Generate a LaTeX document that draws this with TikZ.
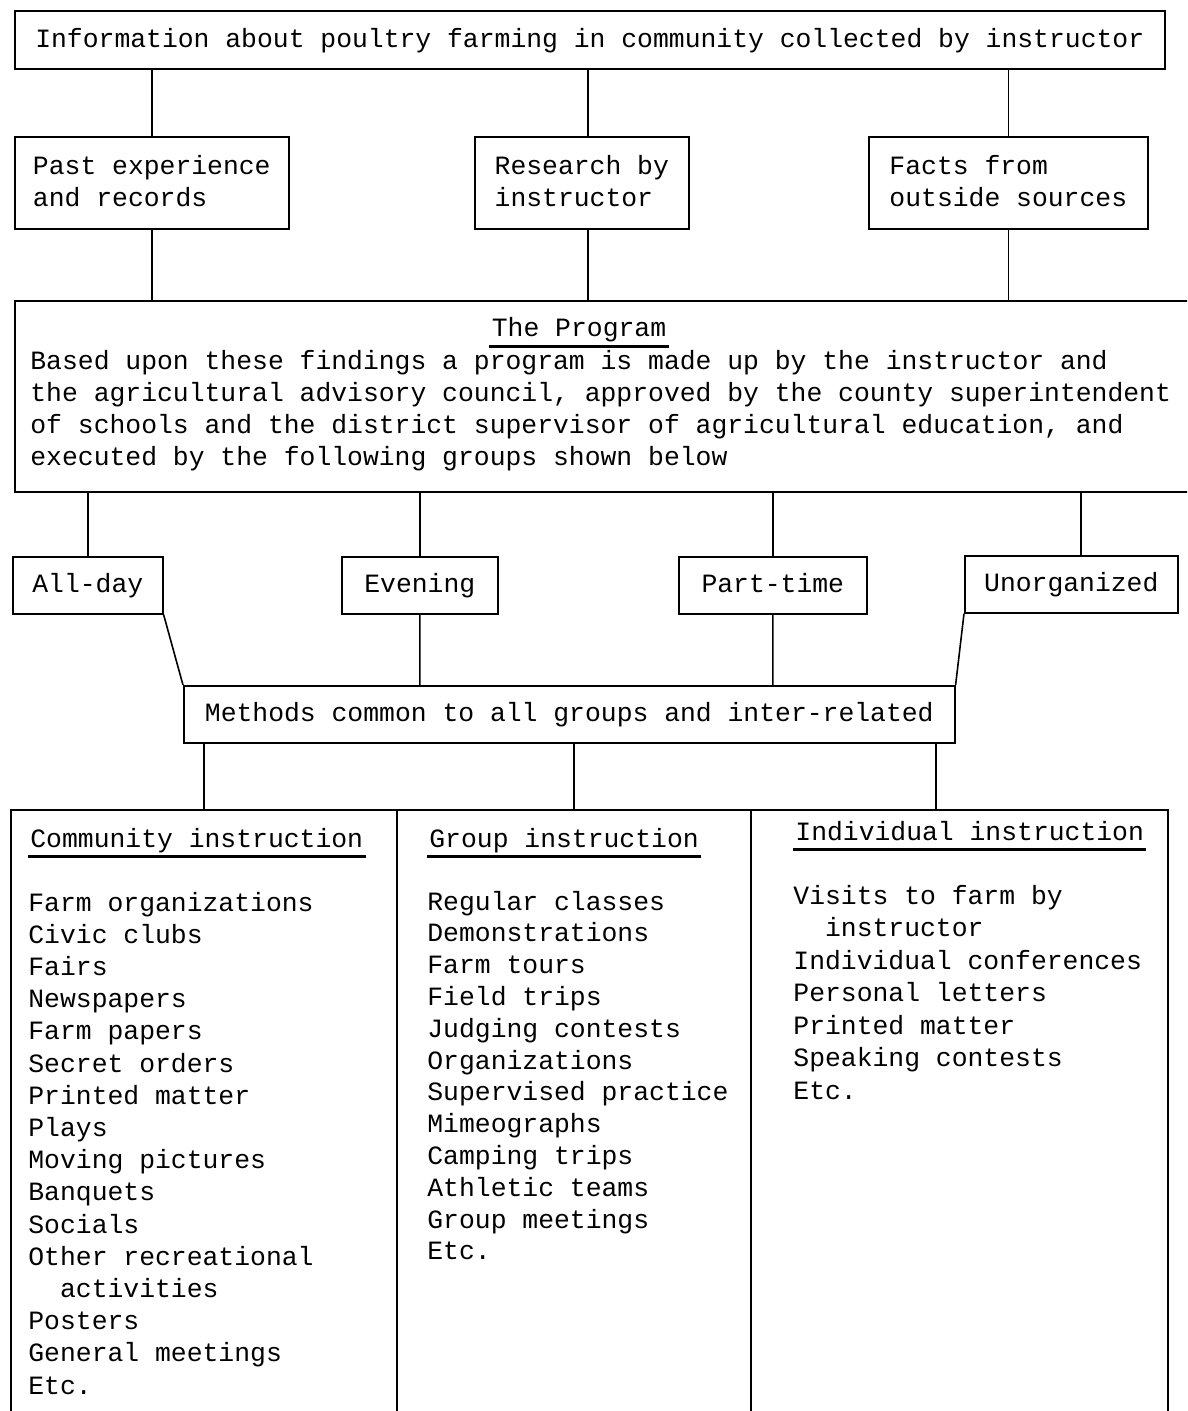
\documentclass[tikz,border=0pt]{standalone}
\usepackage{fontspec}
\setmonofont{Liberation Mono}
\tikzstyle{every node}=[font=\ttfamily\fontsize{13.2}{16.1}\selectfont]
\tikzstyle{box}=[draw,line width=0.8pt,anchor=north west,align=left,inner sep=0pt,text depth=0.22em]
\tikzstyle{link}=[line width=0.8pt]
\tikzstyle{item}=[anchor=base west,inner sep=0pt]
\tikzstyle{head}=[anchor=base west,inner sep=1pt,text depth=3.5pt]
\tikzstyle{uline}=[line width=1.3pt]

\begin{document}
\begin{tikzpicture}[x=0.5pt,y=-0.5pt]
          \useasboundingbox (0,0) rectangle (1187,1411);
          \clip (0,0) rectangle (1187,1411);

          %% sources of information
          \node[box,minimum width=575pt,minimum height=29pt] (info) at (14,10)
          {Information about poultry farming in community collected by instructor};
          \node[box,minimum width=137pt,minimum height=46pt] (past) at (14,136)
          {Past experience\\and records};
          \node[box,minimum width=107pt,minimum height=46pt] (rsrch) at (474,136)
          {Research by\\instructor};
          \node[box,minimum width=139.5pt,minimum height=46pt] (facts) at (868,136)
          {Facts from\\outside sources};

          \draw[link] (past.north) -- (past.north |- info.south)
          ([xshift=3pt]rsrch.north) -- ([xshift=3pt]rsrch.north |- info.south)
          (facts.north) -- (facts.north |- info.south);

          %% the program
          \node[box,minimum width=593pt,minimum height=95.5pt] (prog) at (14,300) {};
          \node[head,anchor=base] (title) at (579,337) {The Program};
          \draw[uline] (title.south west) -- (title.south east);
          % base of a block of lines is the base of its last line
          \node[item,align=left] (progtxt) at (30,466)
          {Based upon these findings a program is made up by the instructor and\\
            the agricultural advisory council, approved by the county superintendent\\
            of schools and the district supervisor of agricultural education, and\\
            executed by the following groups shown below};

          \draw[link] (past.south) -- (past.south |- prog.north)
          ([xshift=3pt]rsrch.south) -- ([xshift=3pt]rsrch.south |- prog.north)
          (facts.south) -- (facts.south |- prog.north);

          %% groups
          \node[box,minimum width=75pt,minimum height=28.5pt] (allday) at (12,556) {All-day};
          \node[box,minimum width=78pt,minimum height=28.5pt] (eve) at (341,556) {Evening};
          \node[box,minimum width=94pt,minimum height=28.5pt] (part) at (678,556) {Part-time};
          \node[box,minimum width=106.5pt,minimum height=28.5pt] (unorg) at (964,555) {Unorganized};

          \draw[link] (allday.north) -- (allday.north |- prog.south)
          (eve.north) -- (eve.north |- prog.south)
          (part.north) -- (part.north |- prog.south)
          ([xshift=4.75pt]unorg.north) -- ([xshift=4.75pt]unorg.north |- prog.south);

          %% methods
          \node[box,minimum width=385.5pt,minimum height=28.5pt] (meth) at (183,685)
          {Methods common to all groups and inter-related};

          \draw[link] (allday.south east) -- (meth.north west)
          (unorg.south west) -- (meth.north east)
          (eve.south) -- (eve.south |- meth.north)
          (part.south) -- (part.south |- meth.north);

          %% kinds of instruction
          \node[box,minimum width=193pt,minimum height=306pt] (comm) at (10,809) {};
          \node[box,minimum width=177pt,minimum height=306pt] (grp) at (396,809) {};
          \node[box,minimum width=208.5pt,minimum height=306pt] (indiv) at (750,809) {};

          \draw[link] (comm.north) -- (comm.north |- meth.south)
          (grp.north) -- (grp.north |- meth.south)
          ([xshift=-11.75pt]indiv.north) -- ([xshift=-11.75pt]indiv.north |- meth.south);

          \node[head] (commhd) at (28,847) {Community instruction};
          \node[head] (grphd) at (427,847) {Group instruction};
          \node[head] (indivhd) at (793,840) {Individual instruction};
          \foreach \hd in {commhd,grphd,indivhd}{
            \draw[uline] (\hd.south west) -- (\hd.south east);
          }

          \foreach \t [count=\i from 0] in {Farm organizations,Civic clubs,Fairs,
            Newspapers,Farm papers,Secret orders,Printed matter,Plays,
            Moving pictures,Banquets,Socials,Other recreational,
            \hspace*{1.2em}activities,Posters,General meetings,Etc.}{
            \node[item] (comm\i) at (28,{911+32.2*\i}) {\t};
          }
          \foreach \t [count=\i from 0] in {Regular classes,Demonstrations,
            Farm tours,Field trips,Judging contests,Organizations,
            Supervised practice,Mimeographs,Camping trips,Athletic teams,
            Group meetings,Etc.}{
            \node[item] (grp\i) at (427,{910+31.8*\i}) {\t};
          }
          \foreach \t [count=\i from 0] in {Visits to farm by,
            \hspace*{1.2em}instructor,Individual conferences,Personal letters,
            Printed matter,Speaking contests,Etc.}{
            \node[item] (indiv\i) at (793,{904+32.5*\i}) {\t};
          }
\end{tikzpicture}
\end{document}
